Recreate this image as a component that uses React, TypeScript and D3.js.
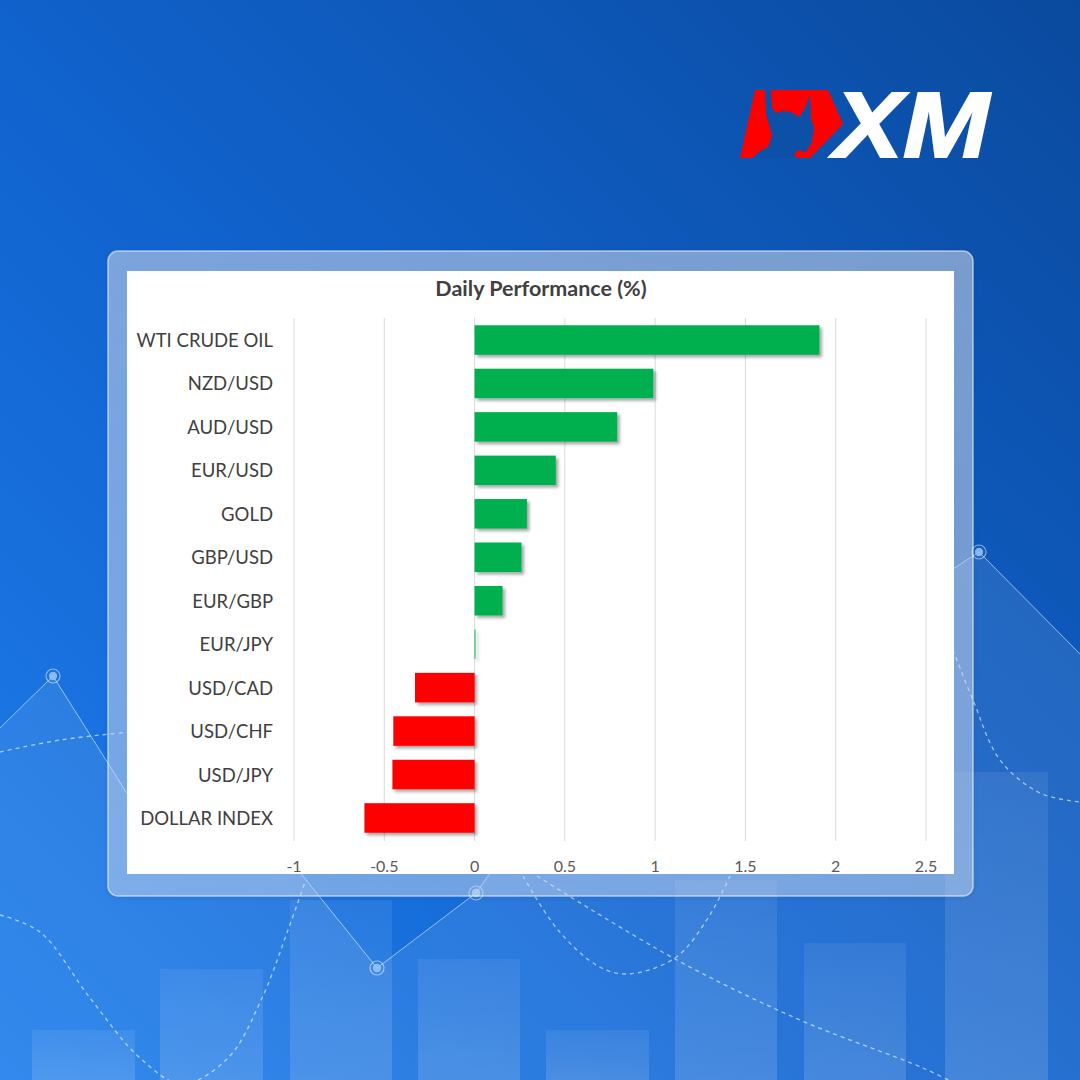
import React from "react";
import * as d3 from "d3";

// Daily performance of instruments (%)
const categories = [
  "WTI CRUDE OIL",
  "NZD/USD",
  "AUD/USD",
  "EUR/USD",
  "GOLD",
  "GBP/USD",
  "EUR/GBP",
  "EUR/JPY",
  "USD/CAD",
  "USD/CHF",
  "USD/JPY",
  "DOLLAR INDEX",
];
const values = [1.91, 0.99, 0.79, 0.45, 0.29, 0.26, 0.155, 0.005, -0.33, -0.45, -0.455, -0.61];
const tickValues = [-1, -0.5, 0, 0.5, 1, 1.5, 2, 2.5];
const tickLabels = ["-1", "-0.5", "0", "0.5", "1", "1.5", "2", "2.5"];
const title = "Daily Performance (%)";

// Background decoration: faint columns [x0, x1, top]
const bgColumns: [number, number, number][] = [
  [32, 135, 1030],
  [160, 263, 969],
  [290, 392, 900],
  [418, 520, 959],
  [546, 649, 1030],
  [675, 777, 880],
  [804, 906, 943],
  [945, 1048, 772],
];
// Background decoration: polyline with markers
const linePoints: [number, number][] = [
  [0, 728],
  [53, 676],
  [140, 814],
  [290, 860],
  [377, 968],
  [476, 893],
  [510, 845],
  [930, 584],
  [979, 552],
  [1080, 654],
];
const markerPoints: [number, number][] = [
  [53, 676],
  [377, 968],
  [476, 893],
  [979, 552],
];
// Background decoration: dashed curves
const dashedCurves: [number, number][][] = [
  [[0, 752], [60, 740], [130, 732]],
  [[0, 915], [40, 932], [90, 998], [140, 1058], [182, 1084], [228, 1058], [262, 998], [288, 930], [305, 882]],
  [[523, 876], [558, 930], [598, 966], [627, 974], [675, 958], [708, 918], [730, 876]],
  [[537, 876], [675, 959], [800, 1020], [923, 1068], [960, 1086]],
  [[953, 650], [973, 700], [1000, 760], [1040, 793], [1080, 802]],
];

const W = 1080;
const H = 1080;

const x = d3.scaleLinear().domain([-1, 2.5]).range([294, 926]);
const y = d3
  .scaleBand<string>()
  .domain(categories)
  .range([318.3, 839.7])
  .paddingInner(0.32)
  .paddingOuter(0.16);

const FONT = "Lato, 'Open Sans', sans-serif";

export default function App() {
  const lineGen = d3.line();
  const curveGen = d3.line().curve(d3.curveCatmullRom.alpha(0.5));
  const areaPts: [number, number][] = [...linePoints, [1080, 1080], [0, 1080]];

  return (
    <svg
      width={W}
      height={H}
      viewBox={`0 0 ${W} ${H}`}
      style={{ position: "absolute", left: 0, top: 0, display: "block" }}
    >
      <defs>
        <linearGradient id="bg" x1="0" y1="1" x2="1" y2="0">
          <stop offset="0" stopColor="#1f7eec" />
          <stop offset="0.45" stopColor="#1164d0" />
          <stop offset="1" stopColor="#0a4a9e" />
        </linearGradient>
        <linearGradient id="col" x1="0" y1="0" x2="0" y2="1">
          <stop offset="0" stopColor="#ffffff" stopOpacity="0.07" />
          <stop offset="1" stopColor="#ffffff" stopOpacity="0.14" />
        </linearGradient>
        <linearGradient id="frame" x1="0" y1="0" x2="0" y2="1">
          <stop offset="0" stopColor="#d6e0ee" stopOpacity="0.5" />
          <stop offset="1" stopColor="#dce9fb" stopOpacity="0.42" />
        </linearGradient>
        <filter id="barShadow" x="-10%" y="-20%" width="130%" height="160%">
          <feDropShadow dx="2.5" dy="2.5" stdDeviation="1.6" floodColor="#000" floodOpacity="0.35" />
        </filter>
        <filter id="frameGlow" x="-5%" y="-5%" width="110%" height="110%">
          <feDropShadow dx="0" dy="1" stdDeviation="2" floodColor="#0a3a80" floodOpacity="0.3" />
        </filter>
      </defs>

      {/* background */}
      <rect x={0} y={0} width={W} height={H} fill="url(#bg)" />
      {bgColumns.map(([x0, x1, top], i) => (
        <rect key={i} x={x0} y={top} width={x1 - x0} height={H - top} fill="url(#col)" />
      ))}
      <path d={lineGen(areaPts) + "Z"} fill="#ffffff" fillOpacity={0.09} />
      <path d={lineGen(linePoints) || ""} fill="none" stroke="#ffffff" strokeOpacity={0.55} strokeWidth={1} />
      {dashedCurves.map((pts, i) => (
        <path
          key={i}
          d={curveGen(pts) || ""}
          fill="none"
          stroke="#ffffff"
          strokeOpacity={0.6}
          strokeWidth={1.3}
          strokeDasharray="4 4"
        />
      ))}
      {markerPoints.map(([mx, my], i) => (
        <g key={i}>
          <circle cx={mx} cy={my} r={7} fill="none" stroke="#ffffff" strokeOpacity={0.5} strokeWidth={1.2} />
          <circle cx={mx} cy={my} r={4.2} fill="#9ac6f5" fillOpacity={0.85} />
        </g>
      ))}

      {/* logo */}
      <g>
        <polygon points="755,90 828,90 843,124 810,158 740,158" fill="#ff0000" />
        <path
          d="M765,90 L771,90 L772,108 L776,113 L783,111 L791,112 L799,117 L805,108 L810,95 L811,118 L814,128 L812,142 L806,152 L798,150 L794,155 L797,158 L752,158 L760,151 L768,147 L772,136 L769,124 L766,114 Z"
          fill="#0c50a8"
        />
        <text
          x={834}
          y={157}
          fontFamily="'Liberation Sans', Arial, sans-serif"
          fontWeight={700}
          fontStyle="italic"
          fontSize={92}
          fill="#ffffff"
          stroke="#ffffff"
          strokeWidth={2}
          textLength={155}
          lengthAdjust="spacingAndGlyphs"
        >
          XM
        </text>
      </g>

      {/* chart frame */}
      <rect
        x={108}
        y={251}
        width={865}
        height={645}
        rx={10}
        fill="url(#frame)"
        stroke="#ffffff"
        strokeOpacity={0.55}
        strokeWidth={1.5}
        filter="url(#frameGlow)"
      />
      <rect x={127} y={271} width={827} height={603} fill="#ffffff" />

      {/* title */}
      <text
        x={541}
        y={288}
        textAnchor="middle"
        dominantBaseline="central"
        fontFamily={FONT}
        fontWeight={700}
        fontSize={21.5}
        fill="#404040"
      >
        {title}
      </text>

      {/* gridlines */}
      {tickValues.map((t) => (
        <line key={t} x1={x(t)} x2={x(t)} y1={318} y2={841} stroke="#d9d9d9" strokeWidth={1} />
      ))}

      {/* bars */}
      <g filter="url(#barShadow)">
        {categories.map((c, i) => {
          const v = values[i];
          const x0 = x(Math.min(0, v));
          const x1 = x(Math.max(0, v));
          return (
            <rect
              key={c}
              x={x0}
              y={y(c)}
              width={Math.max(0, x1 - x0)}
              height={y.bandwidth()}
              fill={v >= 0 ? "#00b050" : "#ff0000"}
            />
          );
        })}
      </g>

      {/* category labels */}
      {categories.map((c) => (
        <text
          key={c}
          x={273}
          y={(y(c) || 0) + y.bandwidth() / 2}
          textAnchor="end"
          dominantBaseline="central"
          fontFamily={FONT}
          fontSize={18.5}
          fill="#404040"
        >
          {c}
        </text>
      ))}

      {/* x tick labels */}
      {tickValues.map((t, i) => (
        <text
          key={t}
          x={x(t)}
          y={865}
          textAnchor="middle"
          dominantBaseline="central"
          fontFamily={FONT}
          fontSize={16}
          fill="#595959"
        >
          {tickLabels[i]}
        </text>
      ))}
    </svg>
  );
}
